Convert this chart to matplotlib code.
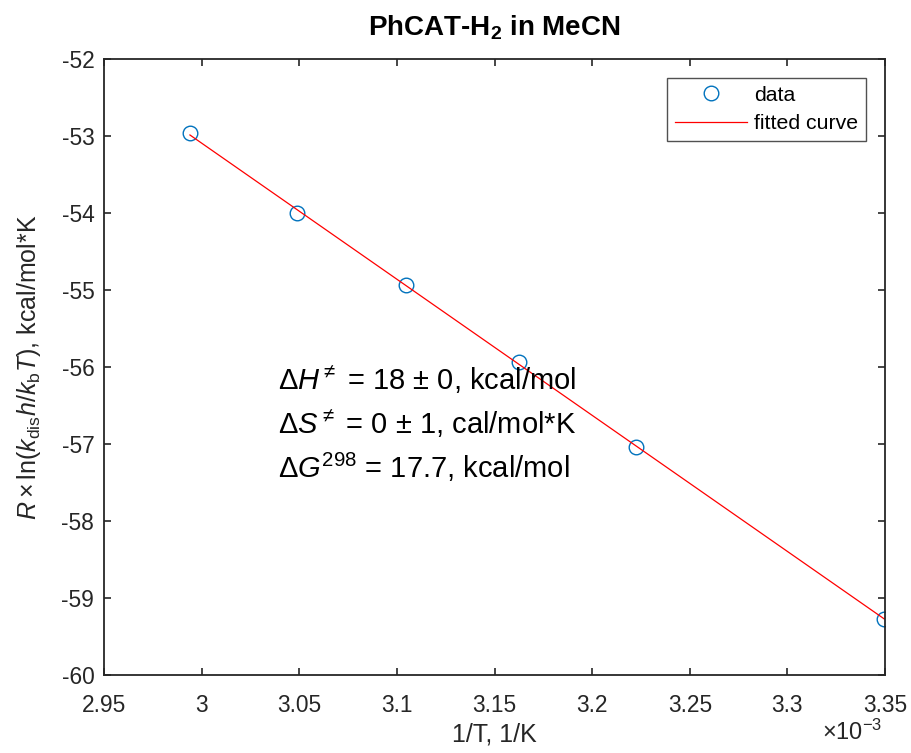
import matplotlib
matplotlib.use('Agg')
import matplotlib.pyplot as plt
from matplotlib.ticker import FuncFormatter
import numpy as np

# 1/T values in units of 1e-3 1/K, and R*ln(k h / kb T) values
inv_T = [2.994, 3.0486, 3.1045, 3.1625, 3.2225, 3.3496]
energy = [-52.96, -54.00, -54.93, -55.94, -57.04, -59.27]

x_ticks = [2.95, 3.0, 3.05, 3.1, 3.15, 3.2, 3.25, 3.3, 3.35]
y_ticks = [-60, -59, -58, -57, -56, -55, -54, -53, -52]

notes = [r'$\Delta H^{\neq}$ = 18 $\pm$ 0, kcal/mol',
         r'$\Delta S^{\neq}$ = 0 $\pm$ 1, cal/mol*K',
         r'$\Delta G^{298}$ = 17.7, kcal/mol']

plt.rcParams['font.family'] = ['Liberation Sans', 'DejaVu Sans']
plt.rcParams['mathtext.fontset'] = 'custom'
plt.rcParams['mathtext.rm'] = 'Liberation Sans'
plt.rcParams['mathtext.it'] = 'Liberation Sans:italic'
plt.rcParams['mathtext.bf'] = 'Liberation Sans:bold'

edge = '#262626'

fig = plt.figure(figsize=(9.11, 7.53), dpi=100)
ax = fig.add_axes([0.1142, 0.1036, 0.8573, 0.818])

# linear fit through the points
coef = np.polyfit(inv_T, energy, 1)
xf = np.array([min(inv_T), max(inv_T)])
ax.plot(inv_T, energy, 'o', mfc='none', mec='#0072BD', ms=10.5, mew=1.0, label='data')
ax.plot(xf, np.polyval(coef, xf), color='red', lw=0.9, label='fitted curve')

ax.set_xlim(2.95, 3.35)
ax.set_ylim(-60, -52)
ax.set_xticks(x_ticks)
ax.set_yticks(y_ticks)
fmt = FuncFormatter(lambda v, p: '%g' % round(v, 4))
ax.xaxis.set_major_formatter(fmt)
ax.yaxis.set_major_formatter(fmt)
ax.tick_params(direction='in', top=True, right=True, length=5, width=1.2,
               labelsize=16.4, colors=edge)
ax.tick_params(axis='x', pad=14)
ax.tick_params(axis='y', pad=7)
for sp in ax.spines.values():
    sp.set_color(edge)
    sp.set_linewidth(1.3)

ax.set_xlabel('1/T, 1/K', fontsize=18, color=edge, labelpad=4)
ax.set_ylabel(r'$R\times\ln(k_{\rm dis}h/k_{\rm b}T)$, kcal/mol*K', fontsize=18,
              color=edge, labelpad=13)
ax.set_title(r'PhCAT-H$_\mathbf{2}$ in MeCN', fontsize=20, fontweight='bold', pad=17)
fig.text(0.969, 0.018, r'$\times10^{-3}$', fontsize=17, color=edge, ha='right')

for i, s in enumerate(notes):
    ax.text(3.039, -56.17 - 0.57 * i, s, fontsize=21, va='center')

leg = ax.legend(loc='upper right', fontsize=15.3, frameon=True, fancybox=False,
                edgecolor=edge, borderaxespad=0.9, handlelength=3.4,
                handletextpad=0.35, labelspacing=0.45, borderpad=0.35)
leg.get_frame().set_linewidth(1.0)

fig.savefig('out.png', dpi=100)
